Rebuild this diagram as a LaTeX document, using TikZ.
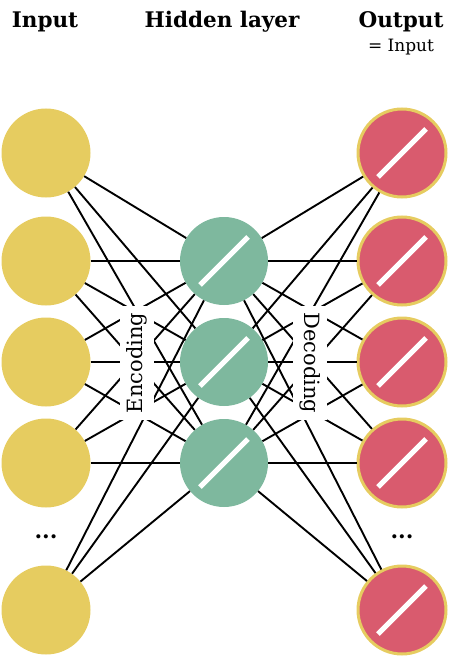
\documentclass[tikz,border=0pt]{standalone}
\usepackage{fontspec}
\setmainfont{DejaVu Serif}
\definecolor{inyellow}{HTML}{E6CC60}
\definecolor{hidgreen}{HTML}{7EB89E}
\definecolor{outred}{HTML}{D95B6E}
\begin{document}
\begin{tikzpicture}[x=1pt,y=-1pt,
  innode/.style={circle,fill=inyellow,minimum size=89pt,inner sep=0pt},
  stripe/.style={path picture={\draw[white,line width=5pt]
      ([shift={(-24pt,-24pt)}]path picture bounding box.center) --
      ([shift={(24pt,24pt)}]path picture bounding box.center);}},
  hidnode/.style={circle,fill=hidgreen,minimum size=88pt,inner sep=0pt,stripe},
  outnode/.style={circle,fill=outred,draw=inyellow,line width=3pt,minimum size=88pt,inner sep=0pt,stripe},
  edge/.style={black,line width=1.9pt},
  head/.style={font=\bfseries\fontsize{21.5}{24}\selectfont,anchor=base},
  lab/.style={fill=white,inner sep=7pt,font=\fontsize{21}{24}\selectfont},
  dots/.style={font=\bfseries\fontsize{22}{24}\selectfont,anchor=base}
]
\useasboundingbox (0,0) rectangle (454,658);
% headings
\node[head] (hin) at (45,28) {Input};
\node[head] (hhid) at (222,28) {Hidden layer};
\node[head] (hout) at (401,28) {Output};
\node[anchor=base,font=\fontsize{17}{19}\selectfont] (hsub) at (401,52) {= Input};
% nodes
\foreach \n/\y in {1/153,2/261,3/362,4/463,5/610}{
  \node[innode] (i\n) at (46,\y) {};
  \node[outnode] (o\n) at (402,\y) {};
}
\foreach \n/\y in {1/261,2/362,3/463}{
  \node[hidnode] (h\n) at (224,\y) {};
}
% edges
\foreach \a in {1,...,5}{
  \foreach \b in {1,2,3}{
    \draw[edge] (i\a) -- (h\b);
    \draw[edge] (h\b) -- (o\a);
  }
}
% labels
\node[lab,rotate=90] (enc) at (137,363) {Encoding};
\node[lab,rotate=-90] (dec) at (310,363) {Decoding};
\node[dots] (d1) at (46,538) {...};
\node[dots] (d2) at (402,538) {...};
\end{tikzpicture}
\end{document}
